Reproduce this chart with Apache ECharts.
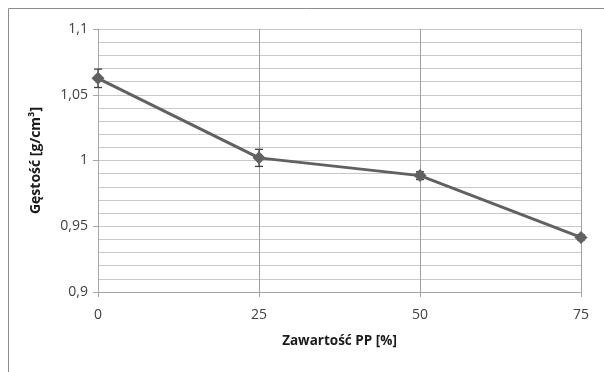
<!DOCTYPE html>
<html><head><meta charset="utf-8">
<script src="https://cdn.jsdelivr.net/npm/echarts@6/dist/echarts.min.js"></script>
<style>html,body{margin:0;padding:0;background:#fff}#c{width:604px;height:372px}</style>
</head><body><div id="c"></div>
<script>
const ppContent = [0, 25, 50, 75];
const density = [1.0625, 1.002, 0.9885, 0.9415];
const densityErr = [0.007, 0.0065, 0.003, 0.002];
const xTicks = [0, 25, 50, 75];
const yTicks = [0.9, 0.95, 1, 1.05, 1.1];

const chart = echarts.init(document.getElementById('c'));
const fmt = v => String(Math.round(v * 1000) / 1000).replace('.', ',');
chart.setOption({
  animation: false,
  backgroundColor: '#fff',
  graphic: [{ type: 'rect', shape: { x: 8.5, y: 8.5, width: 620, height: 400 }, style: { fill: 'none', stroke: '#8c8c8c', lineWidth: 1 } }],
  grid: { left: 98, right: 23, top: 29, bottom: 80 },
  xAxis: {
    type: 'value', min: xTicks[0], max: xTicks[xTicks.length - 1], interval: 25,
    name: 'Zawartość PP [%]', nameLocation: 'middle', nameGap: 42,
    nameTextStyle: { fontFamily: 'Open Sans', fontWeight: 'bold', fontSize: 13.5, color: '#1a1a1a' },
    axisLine: { show: true, lineStyle: { color: '#a6a6a6' } },
    axisTick: { show: true, length: 5, lineStyle: { color: '#a6a6a6' } },
    axisLabel: { fontFamily: 'Open Sans', fontSize: 14, color: '#404040', margin: 16 },
    splitLine: { show: true, lineStyle: { color: '#a0a0a0' } }
  },
  yAxis: {
    type: 'value', min: yTicks[0], max: yTicks[yTicks.length - 1], interval: 0.05,
    name: 'Gęstość [g/cm³]', nameLocation: 'middle', nameGap: 55,
    nameTextStyle: { fontFamily: 'Open Sans', fontWeight: 'bold', fontSize: 14, color: '#1a1a1a' },
    axisLine: { show: true, lineStyle: { color: '#a6a6a6' } },
    axisTick: { show: true, length: 5, lineStyle: { color: '#a6a6a6' } },
    axisLabel: { fontFamily: 'Open Sans', fontSize: 14, color: '#404040', margin: 10, formatter: fmt },
    splitLine: { show: true, lineStyle: { color: '#c8c8c8' } },
    minorTick: { show: false, splitNumber: 5 },
    minorSplitLine: { show: true, lineStyle: { color: '#c8c8c8' } }
  },
  series: [
    {
      type: 'custom', z: 3,
      data: ppContent.map((x, i) => [x, density[i] - densityErr[i], density[i] + densityErr[i]]),
      renderItem: (params, api) => {
        const lo = api.coord([api.value(0), api.value(1)]);
        const hi = api.coord([api.value(0), api.value(2)]);
        const st = { stroke: '#404040', lineWidth: 1.3 };
        return { type: 'group', children: [
          { type: 'line', shape: { x1: lo[0], y1: lo[1], x2: hi[0], y2: hi[1] }, style: st },
          { type: 'line', shape: { x1: lo[0] - 4, y1: lo[1], x2: lo[0] + 4, y2: lo[1] }, style: st },
          { type: 'line', shape: { x1: hi[0] - 4, y1: hi[1], x2: hi[0] + 4, y2: hi[1] }, style: st }
        ]};
      }
    },
    {
      type: 'line', z: 4,
      data: ppContent.map((x, i) => [x, density[i]]),
      symbol: 'diamond', symbolSize: 13,
      lineStyle: { color: '#616161', width: 3 },
      itemStyle: { color: '#616161' }
    }
  ]
});
</script></body></html>
